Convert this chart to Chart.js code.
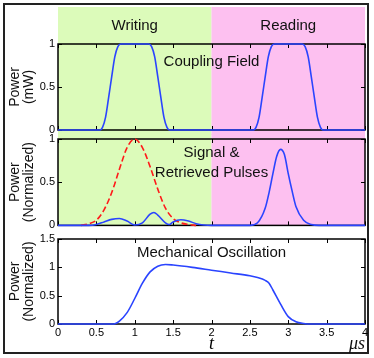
<!DOCTYPE html>
<html>
<head>
<meta charset="utf-8">
<script src="https://cdn.jsdelivr.net/npm/chart.js@4.4.1/dist/chart.umd.min.js"></script>
<style>
  html, body { margin: 0; padding: 0; background: #fff; }
  #fig { position: relative; width: 374px; height: 358px; overflow: hidden; }
  #frame { position: absolute; left: 3px; top: 3px; width: 362px; height: 347px; border: 2px solid #222; }
  canvas { position: absolute; left: 0; }
</style>
</head>
<body>
<div id="fig">
  <div id="frame"></div>
  <canvas id="c1" width="374" height="140" style="top:0px"></canvas>
  <canvas id="c2" width="374" height="110" style="top:125px"></canvas>
  <canvas id="c3" width="374" height="133" style="top:225px"></canvas>
</div>
<script>
// time axis (microseconds)
const xTicks = [0, 0.5, 1, 1.5, 2, 2.5, 3, 3.5, 4];

// writing / reading phases
const phaseNames = ['Writing', 'Reading'];
const phaseStart = [0, 2];
const phaseEnd = [2, 4];
const phaseColors = ['#dcfbba', '#fdc0f0'];

// coupling field (mW)
const couplingTime = [0, 0.5, 0.55, 0.58, 0.62, 0.66, 0.7, 0.74, 0.78, 0.82, 0.9, 1.0, 1.1, 1.18, 1.22, 1.26, 1.3, 1.34, 1.38, 1.42, 1.45, 1.5,
                      2.5, 2.55, 2.58, 2.62, 2.66, 2.7, 2.74, 2.78, 2.82, 2.9, 3.0, 3.1, 3.18, 3.22, 3.26, 3.3, 3.34, 3.38, 3.42, 3.45, 3.5, 4];
const couplingPower = [0, 0, 0, 0.03, 0.15, 0.38, 0.62, 0.85, 0.97, 1, 1, 1, 1, 1, 0.97, 0.85, 0.62, 0.38, 0.15, 0.03, 0, 0,
                       0, 0, 0.03, 0.15, 0.38, 0.62, 0.85, 0.97, 1, 1, 1, 1, 1, 0.97, 0.85, 0.62, 0.38, 0.15, 0.03, 0, 0, 0];

// input signal pulse (normalized)
const signalTime = [0.3, 0.4, 0.5, 0.6, 0.7, 0.8, 0.9, 1.0, 1.1, 1.2, 1.3, 1.4, 1.5, 1.6, 1.7, 1.8];
const signalPower = [0, 0.02, 0.06, 0.18, 0.38, 0.65, 0.9, 1.0, 0.9, 0.68, 0.42, 0.2, 0.08, 0.03, 0.01, 0];

// leaked + retrieved pulses (normalized)
const retrievedTime = [0, 0.4, 0.5, 0.6, 0.7, 0.8, 0.9, 1.0, 1.1, 1.2, 1.25, 1.3, 1.4, 1.45, 1.5, 1.6, 1.7, 1.8, 1.9, 2.0,
                       2.5, 2.6, 2.7, 2.75, 2.8, 2.85, 2.9, 2.95, 3.0, 3.05, 3.1, 3.2, 3.3, 3.4, 4];
const retrievedPower = [0, 0, 0.01, 0.04, 0.07, 0.08, 0.05, 0.005, 0.03, 0.13, 0.15, 0.12, 0.03, 0.01, 0.04, 0.065, 0.05, 0.02, 0.005, 0,
                        0, 0.03, 0.2, 0.38, 0.6, 0.8, 0.88, 0.82, 0.6, 0.4, 0.22, 0.06, 0.01, 0, 0];

// mechanical oscillation (normalized)
const mechTime = [0, 0.7, 0.75, 0.8, 0.9, 1.0, 1.1, 1.2, 1.3, 1.4, 1.5, 1.75, 2.0, 2.25, 2.5, 2.6, 2.7, 2.75, 2.8, 2.9, 3.0, 3.1, 3.2, 3.3, 4];
const mechPower = [0, 0, 0.01, 0.05, 0.2, 0.45, 0.72, 0.92, 1.02, 1.05, 1.04, 1.0, 0.95, 0.9, 0.85, 0.82, 0.77, 0.72, 0.6, 0.35, 0.13, 0.04, 0.01, 0, 0];

const yTicksMW = [0, 0.5, 1];
const yTicksNorm1 = [0, 0.5, 1];
const yTicksNorm2 = [0, 0.5, 1, 1.5];

const SANS = '"Liberation Sans", Arial, sans-serif';
const SERIF = '"Liberation Serif", "Times New Roman", serif';
const BLUE = '#2a44ff';
const RED = '#ff1a1a';

function pts(xs, ys) {
  return xs.map((t, i) => ({ x: t, y: ys[i] }));
}

// shading, box frame with inward ticks, captions
const decor = {
  id: 'decor',
  beforeDatasetsDraw(chart, args, opts) {
    const { ctx, chartArea: a, scales: { x, y } } = chart;
    ctx.save();
    if (opts.shade) {
      phaseStart.forEach((s, i) => {
        const x0 = x.getPixelForValue(s);
        const x1 = x.getPixelForValue(phaseEnd[i]);
        ctx.fillStyle = phaseColors[i];
        ctx.fillRect(x0, a.top - opts.shade[0], x1 - x0, a.height + opts.shade[0] + opts.shade[1]);
      });
    }
    ctx.fillStyle = '#111';
    ctx.textAlign = 'center';
    ctx.textBaseline = 'middle';
    if (opts.phaseLabelY) {
      ctx.font = '15px ' + SANS;
      phaseNames.forEach((n, i) => {
        const xc = (x.getPixelForValue(phaseStart[i]) + x.getPixelForValue(phaseEnd[i])) / 2;
        ctx.fillText(n, xc, a.top + opts.phaseLabelY);
      });
    }
    // frame
    ctx.strokeStyle = '#000';
    ctx.lineWidth = 1.5;
    ctx.strokeRect(a.left, a.top, a.width, a.height);
    ctx.lineWidth = 1;
    ctx.beginPath();
    xTicks.forEach(v => {
      const px = Math.round(x.getPixelForValue(v)) + 0.5;
      ctx.moveTo(px, a.bottom); ctx.lineTo(px, a.bottom - 4);
      ctx.moveTo(px, a.top); ctx.lineTo(px, a.top + 4);
    });
    opts.yTicks.forEach(v => {
      const py = Math.round(y.getPixelForValue(v)) + 0.5;
      ctx.moveTo(a.left, py); ctx.lineTo(a.left + 4, py);
      ctx.moveTo(a.right, py); ctx.lineTo(a.right - 4, py);
    });
    ctx.stroke();
    // caption
    ctx.font = '15px ' + SANS;
    const xc = (a.left + a.right) / 2;
    opts.caption.forEach((line, i) => {
      ctx.fillText(line, xc, a.top + opts.captionY + i * 20);
    });
    ctx.restore();
  },
  afterDraw(chart, args, opts) {
    if (!opts.unit) return;
    const { ctx, chartArea: a } = chart;
    ctx.save();
    ctx.fillStyle = '#111';
    ctx.font = 'italic 18px ' + SERIF;
    ctx.textAlign = 'center';
    ctx.textBaseline = 'middle';
    ctx.fillText(opts.unit, a.right - 8, a.bottom + 20);
    ctx.restore();
  }
};

function makePanel(id, datasets, yMax, yTicks, yTitle, decorOpts, padding, showX) {
  return new Chart(document.getElementById(id), {
    type: 'line',
    data: { datasets: datasets },
    options: {
      responsive: false,
      animation: false,
      layout: { padding: padding },
      plugins: { legend: { display: false }, tooltip: { enabled: false }, decor: decorOpts },
      elements: { point: { radius: 0 } },
      scales: {
        x: {
          type: 'linear',
          min: 0, max: 4,
          display: showX,
          afterBuildTicks: s => { s.ticks = xTicks.map(v => ({ value: v })); },
          afterFit: s => { s.height = showX ? 34 : 0; },
          grid: { display: false, drawTicks: false },
          border: { display: false },
          ticks: { padding: 2, color: '#000', font: { size: 11, family: SANS }, maxRotation: 0, autoSkip: false,
                   callback: v => String(v) },
          title: { display: true, text: 't', color: '#000', padding: { top: 0, bottom: 3 },
                   font: { size: 18, style: 'italic', family: SERIF, lineHeight: 1.2 } }
        },
        y: {
          min: 0, max: yMax,
          afterBuildTicks: s => { s.ticks = yTicks.map(v => ({ value: v })); },
          afterFit: s => { s.width = 58; },
          grid: { display: false, drawTicks: false },
          border: { display: false },
          ticks: { padding: 3, color: '#000', font: { size: 11, family: SANS }, callback: v => String(v) },
          title: { display: true, text: yTitle, color: '#111', padding: { top: 8.5, bottom: 0 },
                   font: { size: 14, family: SANS, lineHeight: 1 } }
        }
      }
    },
    plugins: [decor]
  });
}

function lineSet(data, color, dash) {
  return {
    data: data,
    borderColor: color,
    borderWidth: 1.6,
    borderDash: dash || [],
    cubicInterpolationMode: 'monotone',
    fill: false,
    clip: 4
  };
}

makePanel('c1',
  [lineSet(pts(couplingTime, couplingPower), BLUE)],
  1, yTicksMW, ['Power', '(mW)'],
  { shade: [37, 5], phaseLabelY: -18, yTicks: yTicksMW, caption: ['Coupling Field'], captionY: 18 },
  { top: 44, bottom: 10, left: 0, right: 9 }, false);

makePanel('c2',
  [lineSet(pts(retrievedTime, retrievedPower), BLUE),
   lineSet(pts(signalTime, signalPower), RED, [6, 3])],
  1, yTicksNorm1, ['Power', '(Normalized)'],
  { shade: [5, 0], yTicks: yTicksNorm1, caption: ['Signal &', 'Retrieved Pulses'], captionY: 14 },
  { top: 14, bottom: 9, left: 0, right: 9 }, false);

makePanel('c3',
  [lineSet(pts(mechTime, mechPower), BLUE)],
  1.5, yTicksNorm2, ['Power', '(Normalized)'],
  { yTicks: yTicksNorm2, caption: ['Mechanical Oscillation'], captionY: 14, unit: 'μs' },
  { top: 14, bottom: 0, left: 0, right: 9 }, true);
</script>
</body>
</html>
